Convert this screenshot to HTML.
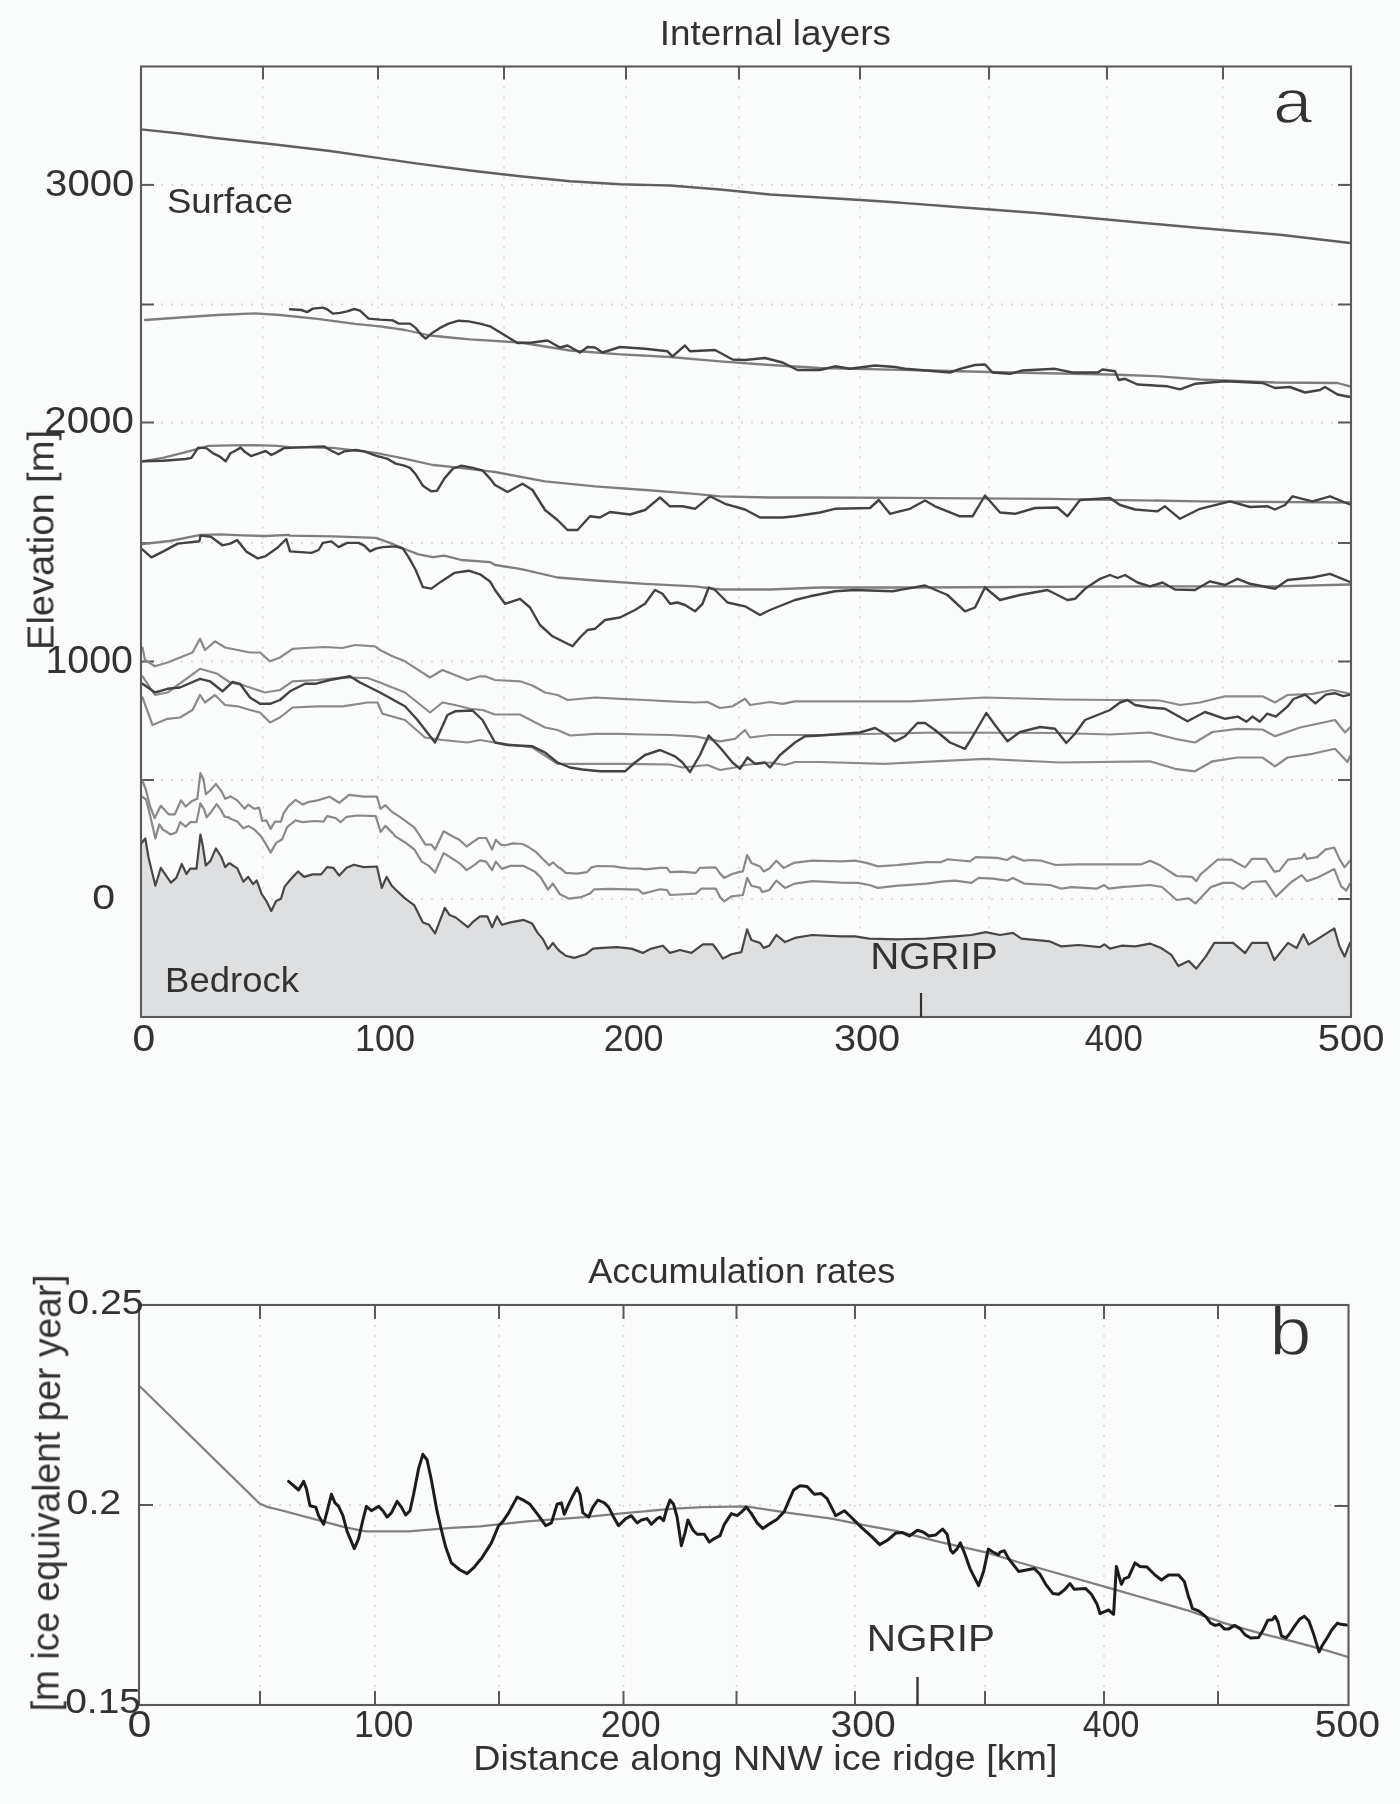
<!DOCTYPE html>
<html><head><meta charset="utf-8"><title>Internal layers and accumulation rates</title>
<style>html,body{margin:0;padding:0;background:#fafbfb;}body{width:1400px;height:1804px;overflow:hidden;font-family:"Liberation Sans",sans-serif;}</style>
</head><body>
<svg width="1400" height="1804" viewBox="0 0 1400 1804" style="display:block">
<defs><filter id="sb" x="0" y="0" width="100%" height="100%"><feGaussianBlur stdDeviation="0.45"/></filter></defs>
<rect x="0" y="0" width="1400" height="1804" fill="#fafbfb"/>
<g filter="url(#sb)">
<line x1="263" y1="66.5" x2="263" y2="1017" stroke="#dadada" stroke-width="1.8" stroke-dasharray="2,8"/>
<line x1="378" y1="66.5" x2="378" y2="1017" stroke="#dadada" stroke-width="1.8" stroke-dasharray="2,8"/>
<line x1="504" y1="66.5" x2="504" y2="1017" stroke="#dadada" stroke-width="1.8" stroke-dasharray="2,8"/>
<line x1="626" y1="66.5" x2="626" y2="1017" stroke="#dadada" stroke-width="1.8" stroke-dasharray="2,8"/>
<line x1="739" y1="66.5" x2="739" y2="1017" stroke="#dadada" stroke-width="1.8" stroke-dasharray="2,8"/>
<line x1="860" y1="66.5" x2="860" y2="1017" stroke="#dadada" stroke-width="1.8" stroke-dasharray="2,8"/>
<line x1="989" y1="66.5" x2="989" y2="1017" stroke="#dadada" stroke-width="1.8" stroke-dasharray="2,8"/>
<line x1="1107" y1="66.5" x2="1107" y2="1017" stroke="#dadada" stroke-width="1.8" stroke-dasharray="2,8"/>
<line x1="1223" y1="66.5" x2="1223" y2="1017" stroke="#dadada" stroke-width="1.8" stroke-dasharray="2,8"/>
<line x1="141" y1="184.9" x2="1351" y2="184.9" stroke="#dadada" stroke-width="1.8" stroke-dasharray="2,8"/>
<line x1="141" y1="304.5" x2="1351" y2="304.5" stroke="#dadada" stroke-width="1.8" stroke-dasharray="2,8"/>
<line x1="141" y1="422.5" x2="1351" y2="422.5" stroke="#dadada" stroke-width="1.8" stroke-dasharray="2,8"/>
<line x1="141" y1="543" x2="1351" y2="543" stroke="#dadada" stroke-width="1.8" stroke-dasharray="2,8"/>
<line x1="141" y1="661.5" x2="1351" y2="661.5" stroke="#dadada" stroke-width="1.8" stroke-dasharray="2,8"/>
<line x1="141" y1="780" x2="1351" y2="780" stroke="#dadada" stroke-width="1.8" stroke-dasharray="2,8"/>
<line x1="141" y1="899" x2="1351" y2="899" stroke="#dadada" stroke-width="1.8" stroke-dasharray="2,8"/>
<line x1="263" y1="66.5" x2="263" y2="79.5" stroke="#5a5a5a" stroke-width="2"/>
<line x1="378" y1="66.5" x2="378" y2="79.5" stroke="#5a5a5a" stroke-width="2"/>
<line x1="504" y1="66.5" x2="504" y2="79.5" stroke="#5a5a5a" stroke-width="2"/>
<line x1="626" y1="66.5" x2="626" y2="79.5" stroke="#5a5a5a" stroke-width="2"/>
<line x1="739" y1="66.5" x2="739" y2="79.5" stroke="#5a5a5a" stroke-width="2"/>
<line x1="860" y1="66.5" x2="860" y2="79.5" stroke="#5a5a5a" stroke-width="2"/>
<line x1="989" y1="66.5" x2="989" y2="79.5" stroke="#5a5a5a" stroke-width="2"/>
<line x1="1107" y1="66.5" x2="1107" y2="79.5" stroke="#5a5a5a" stroke-width="2"/>
<line x1="1223" y1="66.5" x2="1223" y2="79.5" stroke="#5a5a5a" stroke-width="2"/>
<line x1="141" y1="184.9" x2="154" y2="184.9" stroke="#5a5a5a" stroke-width="2"/>
<line x1="1338" y1="184.9" x2="1351" y2="184.9" stroke="#5a5a5a" stroke-width="2"/>
<line x1="141" y1="304.5" x2="154" y2="304.5" stroke="#5a5a5a" stroke-width="2"/>
<line x1="1338" y1="304.5" x2="1351" y2="304.5" stroke="#5a5a5a" stroke-width="2"/>
<line x1="141" y1="422.5" x2="154" y2="422.5" stroke="#5a5a5a" stroke-width="2"/>
<line x1="1338" y1="422.5" x2="1351" y2="422.5" stroke="#5a5a5a" stroke-width="2"/>
<line x1="141" y1="543" x2="154" y2="543" stroke="#5a5a5a" stroke-width="2"/>
<line x1="1338" y1="543" x2="1351" y2="543" stroke="#5a5a5a" stroke-width="2"/>
<line x1="141" y1="661.5" x2="154" y2="661.5" stroke="#5a5a5a" stroke-width="2"/>
<line x1="1338" y1="661.5" x2="1351" y2="661.5" stroke="#5a5a5a" stroke-width="2"/>
<line x1="141" y1="780" x2="154" y2="780" stroke="#5a5a5a" stroke-width="2"/>
<line x1="1338" y1="780" x2="1351" y2="780" stroke="#5a5a5a" stroke-width="2"/>
<line x1="141" y1="899" x2="154" y2="899" stroke="#5a5a5a" stroke-width="2"/>
<line x1="1338" y1="899" x2="1351" y2="899" stroke="#5a5a5a" stroke-width="2"/>
<polygon points="141.0,843.8 141.0,843.8 145.3,838.4 148.4,857.0 155.4,885.7 160.8,867.8 170.9,882.6 176.3,877.9 181.8,864.0 186.4,874.0 190.3,868.6 196.5,868.6 200.4,834.5 202.7,845.3 205.8,865.5 210.5,860.9 215.9,848.4 221.3,857.0 225.2,867.1 229.1,863.2 230.0,863.5 237.3,868.4 243.4,881.7 248.2,876.9 253.1,884.1 256.7,880.5 261.6,893.9 266.4,901.1 271.3,910.9 276.1,901.1 281.0,898.7 284.6,886.6 290.7,879.3 298.0,871.4 304.1,876.9 312.6,874.4 321.1,874.4 327.1,867.1 333.2,867.8 339.3,875.6 346.6,867.8 353.9,864.7 363.6,867.1 376.9,866.5 381.8,887.8 386.6,876.9 391.5,885.4 395.0,889.0 404.7,898.1 414.4,905.4 422.9,922.4 429.0,924.8 435.1,933.3 444.8,907.8 449.6,915.1 455.7,917.5 467.9,927.2 473.9,921.1 480.0,916.3 487.3,916.3 492.1,927.2 497.0,916.3 501.9,924.8 510.4,922.4 523.7,919.9 532.2,923.6 537.1,932.1 543.1,939.4 548.0,949.1 552.9,943.0 557.7,949.1 560.0,951.4 565.7,955.7 574.3,957.9 585.7,954.3 592.9,948.6 602.9,947.9 617.1,947.1 631.4,948.6 642.9,952.9 651.4,948.6 662.9,945.7 670.0,952.9 680.0,950.0 691.4,952.9 697.1,948.6 702.9,944.3 712.9,944.3 717.1,950.0 722.9,958.6 731.4,954.3 741.4,952.1 747.1,929.3 751.4,940.0 760.0,942.9 763.6,947.9 769.3,945.7 776.4,935.0 785.0,942.1 795.0,937.9 812.1,935.0 840.7,936.4 855.0,936.4 869.3,938.6 897.9,939.3 926.4,938.6 955.0,936.4 971.4,935.0 985.7,932.1 1000.0,935.0 1012.9,932.9 1021.4,938.6 1050.0,941.4 1061.4,946.4 1078.6,945.0 1100.0,947.1 1104.3,944.3 1110.0,948.6 1121.4,945.7 1135.7,946.4 1150.0,943.6 1161.1,948.0 1171.4,954.9 1178.3,966.0 1188.6,960.9 1196.3,968.6 1205.7,956.6 1214.3,942.9 1233.1,942.9 1245.1,953.1 1252.0,942.9 1267.4,942.9 1274.3,960.0 1288.0,942.9 1296.6,948.0 1303.4,934.3 1308.6,944.6 1317.1,939.4 1334.3,928.3 1339.4,946.3 1344.6,956.6 1350.0,942.9 1351.0,942.9 1351.0,1017.0 141.0,1017.0" fill="#dedfe1" stroke="none"/>
<polyline points="141.0,129.4 180.0,133.5 215.0,138.0 272.9,144.3 330.0,151.0 415.7,163.4 470.0,170.5 520.0,176.3 570.0,181.3 620.0,184.3 670.0,185.5 720.0,189.5 770.0,194.5 820.0,197.5 880.0,201.2 960.0,207.2 1040.0,213.2 1120.0,220.8 1200.0,228.0 1280.0,234.8 1350.0,243.0" fill="none" stroke="#606060" stroke-width="2.4" stroke-linejoin="round" stroke-linecap="round" />
<polyline points="145.0,320.0 180.0,317.5 217.5,315.0 255.0,313.3 280.0,315.0 317.5,318.8 355.0,323.8 380.0,326.3 405.0,330.0 430.0,335.5 455.0,338.0 470.0,339.3 520.0,342.5 570.0,350.5 620.0,354.3 670.0,357.0 720.0,361.3 770.0,365.0 820.0,368.0 910.0,370.0 1010.0,372.5 1110.0,374.5 1160.0,376.3 1200.0,379.5 1275.0,382.5 1337.5,383.0 1350.0,386.3" fill="none" stroke="#7e7e7e" stroke-width="2.3" stroke-linejoin="round" stroke-linecap="round" />
<polyline points="290.0,309.3 301.4,310.0 307.1,312.1 312.9,308.6 322.9,307.6 327.1,309.3 332.9,313.6 340.0,312.9 347.1,311.4 354.3,309.0 360.0,310.7 368.6,318.6 380.0,319.6 392.9,320.4 398.6,323.6 410.0,323.6 415.7,327.9 421.4,335.0 425.7,338.6 431.4,333.6 440.0,327.9 448.6,323.6 458.6,320.7 468.6,321.4 480.0,323.6 490.0,326.3 517.5,343.0 532.5,342.5 547.5,340.5 560.0,347.5 567.5,345.5 580.0,352.5 587.5,347.0 595.0,347.5 602.5,352.5 620.0,347.0 645.0,348.8 667.5,351.3 672.5,356.3 685.0,345.5 690.0,351.3 715.0,350.0 732.5,359.5 745.0,360.0 765.0,358.0 782.5,362.5 797.5,370.0 820.0,370.0 835.0,366.3 850.0,368.8 875.0,365.5 895.0,367.0 905.0,368.8 950.0,372.5 960.0,368.8 975.0,365.0 985.0,364.5 992.5,372.5 1010.0,373.8 1022.5,370.5 1055.0,368.8 1072.5,372.5 1097.5,372.5 1102.5,369.5 1115.0,371.3 1118.8,380.0 1125.0,378.8 1137.5,384.5 1167.5,386.3 1180.0,389.3 1195.0,383.8 1225.0,381.3 1262.5,383.0 1275.0,388.0 1290.0,387.0 1305.0,392.5 1320.0,390.0 1325.0,387.0 1337.5,394.5 1350.0,397.0" fill="none" stroke="#424242" stroke-width="2.4" stroke-linejoin="round" stroke-linecap="round" />
<polyline points="142.3,461.3 162.9,457.9 185.7,452.1 208.6,445.9 231.4,445.3 254.3,445.1 277.1,445.9 290.0,447.1 332.9,447.9 375.7,452.9 404.3,458.6 432.9,465.0 447.1,466.4 490.0,471.4 495.0,472.0 545.0,481.3 595.0,486.3 645.0,490.0 695.0,493.8 720.0,496.3 770.0,497.5 820.0,497.5 1050.0,498.8 1200.0,501.3 1350.0,502.5" fill="none" stroke="#7e7e7e" stroke-width="2.3" stroke-linejoin="round" stroke-linecap="round" />
<polyline points="142.3,461.3 162.9,460.7 185.7,459.0 191.4,457.9 198.3,447.6 206.3,448.1 213.1,453.3 220.0,456.7 225.7,461.3 230.3,453.3 234.9,451.0 240.6,447.6 245.1,452.1 250.9,456.1 258.9,453.3 265.7,451.0 271.4,455.0 277.1,452.1 284.0,448.1 290.0,447.9 311.4,446.9 324.3,446.4 330.0,450.0 338.6,454.3 344.3,451.4 355.7,450.0 364.3,451.4 375.7,455.7 387.1,458.6 395.7,463.6 404.3,465.7 410.0,467.9 415.7,474.3 422.9,485.7 431.4,491.4 437.1,490.7 444.3,478.6 452.9,468.6 461.4,465.7 472.9,467.9 482.9,470.7 490.0,478.6 495.0,485.0 507.5,492.0 522.5,483.8 532.5,490.0 545.0,510.0 557.5,520.0 567.5,530.0 577.5,530.0 590.0,516.3 600.0,517.5 610.0,512.0 630.0,514.5 645.0,510.0 660.0,497.5 670.0,506.3 682.5,506.3 695.0,508.8 710.0,496.3 725.0,503.8 745.0,509.5 760.0,517.5 782.5,517.5 795.0,516.3 820.0,512.5 835.0,508.8 870.0,508.0 878.8,500.0 890.0,513.8 910.0,508.8 925.0,500.5 935.0,506.3 960.0,516.3 972.5,516.3 985.0,495.5 1000.0,512.5 1015.0,513.8 1035.0,508.0 1057.5,507.5 1067.5,516.3 1080.0,500.0 1110.0,498.0 1120.0,505.0 1135.0,509.5 1157.5,511.3 1165.0,506.3 1180.0,518.8 1200.0,508.8 1230.0,501.3 1250.0,507.0 1267.5,506.3 1275.0,509.5 1285.0,505.0 1292.5,496.3 1312.5,501.3 1330.0,496.3 1350.0,504.5" fill="none" stroke="#424242" stroke-width="2.4" stroke-linejoin="round" stroke-linecap="round" />
<polyline points="142.3,544.0 170.0,541.0 200.6,534.8 220.0,534.4 242.9,535.3 265.7,536.0 288.6,534.8 290.0,535.7 332.9,536.4 375.7,537.9 390.0,542.9 407.1,550.0 418.6,554.3 432.9,557.1 444.3,555.7 461.4,560.0 490.0,562.1 495.0,565.0 520.0,568.8 557.5,577.5 595.0,580.5 645.0,583.8 695.0,586.3 720.0,589.5 770.0,589.5 820.0,587.5 910.0,587.5 1160.0,586.3 1275.0,586.3 1350.0,584.5" fill="none" stroke="#7e7e7e" stroke-width="2.3" stroke-linejoin="round" stroke-linecap="round" />
<polyline points="142.3,549.3 151.4,557.3 162.9,551.6 177.7,543.6 199.4,541.3 200.6,535.6 210.9,536.7 222.3,545.3 230.3,543.6 237.1,540.1 246.3,551.6 257.7,558.4 265.7,556.1 277.1,548.1 286.3,539.0 290.0,551.4 311.4,552.9 318.6,550.0 322.9,542.9 331.4,541.4 338.6,547.1 347.1,542.9 358.6,542.9 364.3,545.7 370.0,551.4 375.7,548.6 382.9,547.1 395.7,546.4 402.9,548.6 408.6,557.1 415.7,570.0 422.9,587.1 431.4,588.6 441.4,581.4 454.3,572.9 468.6,570.7 480.0,574.3 490.0,581.4 495.0,590.0 505.0,603.8 520.0,598.8 530.0,607.5 540.0,625.0 552.5,636.3 562.5,641.3 572.5,646.3 580.0,637.5 587.5,630.0 595.0,628.8 605.0,620.0 620.0,617.5 635.0,610.0 645.0,603.8 655.0,590.0 662.5,593.8 670.0,603.8 677.5,602.5 685.0,605.0 695.0,611.3 702.5,603.8 708.8,587.5 715.0,590.0 727.5,602.5 745.0,606.3 760.0,615.0 770.0,610.0 795.0,600.0 810.0,596.3 835.0,591.3 855.0,590.0 892.5,591.3 925.0,585.5 947.5,595.0 965.0,611.3 975.0,607.5 985.0,587.5 1000.0,600.0 1020.0,595.0 1047.5,590.0 1067.5,600.0 1075.0,598.8 1085.0,588.8 1100.0,578.8 1110.0,575.0 1117.5,578.0 1125.0,575.0 1137.5,582.5 1150.0,586.3 1162.5,582.5 1175.0,589.5 1195.0,590.0 1210.0,581.3 1225.0,585.0 1237.5,578.8 1250.0,583.8 1275.0,588.8 1287.5,580.0 1312.5,577.5 1330.0,573.8 1350.0,582.0" fill="none" stroke="#424242" stroke-width="2.4" stroke-linejoin="round" stroke-linecap="round" />
<polyline points="142.5,647.5 145.0,660.0 155.0,666.3 167.5,662.5 180.0,657.5 192.5,652.5 200.0,638.8 205.0,650.0 215.0,641.3 225.0,647.5 237.5,650.0 250.0,652.5 260.0,652.5 270.0,661.3 280.0,657.5 292.5,648.8 305.0,648.0 325.0,647.0 342.5,648.0 355.0,645.0 375.0,646.3 380.0,650.0 392.5,656.3 405.0,661.3 430.0,677.5 442.5,670.0 455.0,675.0 467.5,680.0 480.0,676.3 485.0,676.3 495.0,680.0 520.0,681.3 532.5,685.5 545.0,692.5 557.5,695.0 567.5,700.0 595.0,697.5 620.0,698.8 645.0,700.0 670.0,701.3 695.0,702.5 707.5,702.0 720.0,708.0 732.5,706.3 745.0,698.8 750.0,705.0 770.0,702.0 782.5,703.8 795.0,701.3 820.0,701.3 910.0,701.3 985.0,697.5 1060.0,699.5 1110.0,700.0 1160.0,700.5 1180.0,705.0 1200.0,702.5 1225.0,696.3 1262.5,696.3 1275.0,702.5 1287.5,695.0 1312.5,693.8 1332.5,690.0 1350.0,693.8" fill="none" stroke="#8a8a8a" stroke-width="2.2" stroke-linejoin="round" stroke-linecap="round" />
<polyline points="142.5,676.3 155.0,695.0 167.5,692.5 200.0,668.8 217.5,673.8 230.0,682.5 242.5,685.0 265.0,692.5 280.0,690.0 292.5,681.3 317.5,680.0 342.5,677.5 367.5,678.0 380.0,682.5 405.0,692.5 430.0,712.5 442.5,702.5 455.0,705.0 470.0,708.8 482.5,710.0 495.0,714.5 520.0,714.5 545.0,727.5 557.5,730.0 570.0,735.5 595.0,733.8 620.0,733.8 645.0,734.5 670.0,735.0 695.0,736.3 720.0,741.3 735.0,738.8 745.0,730.0 750.0,737.5 770.0,735.0 795.0,735.0 820.0,735.0 935.0,732.5 1060.0,733.0 1110.0,734.5 1150.0,732.5 1175.0,738.8 1195.0,742.5 1212.5,732.0 1237.5,728.8 1262.5,729.5 1275.0,736.3 1300.0,727.5 1335.0,720.0 1345.0,732.5 1350.0,727.5" fill="none" stroke="#8a8a8a" stroke-width="2.2" stroke-linejoin="round" stroke-linecap="round" />
<polyline points="142.5,697.5 152.5,725.0 167.5,718.8 180.0,717.5 192.5,710.0 200.0,695.0 205.0,702.5 215.0,695.0 225.0,705.0 237.5,706.3 250.0,710.0 260.0,712.5 270.0,722.5 280.0,717.5 292.5,707.5 317.5,706.3 342.5,706.3 367.5,702.5 377.5,702.5 382.5,713.8 405.0,720.0 425.0,737.5 442.5,740.0 467.5,742.5 480.0,740.0 495.0,742.5 532.5,747.5 557.5,763.8 582.5,763.8 620.0,763.8 670.0,764.5 682.5,767.5 707.5,765.0 720.0,770.0 735.0,767.5 745.0,765.0 770.0,762.5 785.0,765.0 795.0,762.0 820.0,762.0 885.0,763.8 985.0,758.8 1060.0,762.5 1150.0,761.3 1175.0,768.8 1195.0,771.3 1212.5,761.3 1237.5,757.5 1262.5,757.5 1275.0,766.3 1287.5,757.5 1312.5,753.8 1335.0,748.8 1347.5,762.0 1350.0,756.3" fill="none" stroke="#8a8a8a" stroke-width="2.2" stroke-linejoin="round" stroke-linecap="round" />
<polyline points="142.5,683.8 155.0,692.5 167.5,688.8 180.0,687.5 200.0,678.8 210.0,681.3 222.5,691.3 232.5,682.0 240.0,683.8 250.0,697.5 260.0,703.8 270.0,703.8 280.0,700.0 290.0,691.3 305.0,683.8 315.0,683.8 330.0,680.0 350.0,676.3 360.0,682.5 380.0,692.5 405.0,706.3 417.5,720.0 435.0,742.5 447.5,715.0 455.0,711.3 472.5,710.5 482.5,720.0 495.0,742.5 507.5,745.0 532.5,746.3 545.0,752.5 557.5,762.5 570.0,767.5 582.5,769.5 600.0,771.3 625.0,771.3 635.0,762.5 645.0,755.0 660.0,750.0 675.0,756.3 682.5,762.5 690.0,772.0 700.0,755.0 708.8,735.5 720.0,747.5 732.5,762.5 740.0,768.8 747.5,757.5 755.0,763.8 765.0,762.5 770.0,767.5 780.0,755.0 795.0,742.5 805.0,736.3 820.0,735.5 860.0,732.5 875.0,728.0 885.0,733.8 895.0,741.3 905.0,736.3 917.5,723.0 925.0,723.0 935.0,730.0 950.0,742.5 965.0,748.8 975.0,732.5 986.3,713.0 995.0,725.0 1007.5,741.3 1020.0,732.0 1040.0,727.0 1055.0,728.8 1066.3,743.0 1075.0,733.8 1085.0,720.0 1097.5,715.0 1110.0,710.0 1120.0,702.5 1127.5,700.0 1135.0,705.0 1150.0,707.5 1165.0,708.8 1187.5,721.3 1205.0,712.0 1225.0,718.8 1237.8,716.6 1246.6,721.7 1252.5,716.6 1259.8,721.7 1267.1,713.7 1275.9,716.6 1287.6,706.4 1293.5,699.0 1305.2,694.6 1315.4,703.4 1325.7,694.6 1334.5,693.2 1343.3,696.1 1350.5,694.6" fill="none" stroke="#424242" stroke-width="2.4" stroke-linejoin="round" stroke-linecap="round" />
<polyline points="142.5,781.0 146.0,790.0 150.0,806.0 154.6,818.2 160.8,805.8 168.6,814.3 174.8,814.3 181.0,800.3 185.7,806.5 191.9,801.1 197.3,798.8 200.4,773.2 203.5,779.4 205.8,794.1 209.7,791.0 215.9,784.0 221.3,791.0 225.2,798.8 229.1,797.2 230.0,796.1 237.3,800.4 244.6,808.9 248.2,804.6 254.3,808.9 259.1,807.6 262.2,821.0 266.4,820.4 270.7,828.9 274.9,821.6 281.0,821.6 283.4,813.7 288.3,806.4 295.6,799.8 302.9,804.6 307.7,802.2 317.4,800.4 329.6,796.7 339.3,802.8 349.0,794.9 363.6,796.7 376.9,796.7 380.6,808.9 385.4,805.2 392.7,812.5 395.0,813.7 404.7,820.4 414.4,827.6 419.3,834.9 425.4,844.6 431.4,844.6 435.1,849.5 443.6,831.3 453.3,836.8 459.4,839.8 466.6,846.5 472.7,842.2 478.8,838.0 486.1,838.0 492.1,849.5 495.8,839.8 500.6,844.6 505.5,845.3 512.8,843.4 522.5,844.0 528.6,847.1 535.9,851.9 543.1,859.2 549.2,865.3 552.9,862.3 558.9,867.7 560.0,867.9 565.7,872.9 577.1,873.6 587.1,872.1 591.4,867.4 597.1,866.0 614.3,866.4 620.0,867.4 628.6,868.3 640.0,868.6 645.7,869.3 660.0,867.9 667.1,867.9 670.0,872.1 681.4,871.7 695.7,872.9 700.0,867.9 715.7,867.4 720.0,873.6 724.3,877.9 731.4,874.3 738.6,872.1 742.9,871.4 747.1,855.0 751.4,862.9 760.0,866.4 763.6,871.4 769.3,868.6 776.4,860.7 783.6,867.9 793.6,862.9 812.1,860.7 840.7,861.4 855.0,860.7 866.4,862.9 877.9,866.4 897.9,865.0 926.4,862.1 940.7,862.1 947.9,859.3 955.0,860.0 970.0,861.4 975.7,857.1 997.1,857.9 1007.1,860.0 1012.9,856.4 1018.6,858.6 1024.3,860.7 1030.0,860.0 1041.4,860.7 1055.7,865.0 1078.6,864.3 1107.1,864.3 1141.4,864.3 1150.0,860.7 1159.4,864.9 1176.6,876.0 1192.0,876.9 1196.3,881.1 1200.6,874.3 1212.6,864.0 1217.7,859.7 1231.4,859.7 1245.1,867.4 1252.0,858.9 1265.7,858.9 1274.3,871.7 1279.4,870.9 1288.0,859.7 1301.7,858.0 1304.3,853.7 1306.9,858.9 1317.1,857.1 1325.7,849.4 1334.3,847.7 1339.4,858.9 1344.6,867.4 1350.0,860.6" fill="none" stroke="#8a8a8a" stroke-width="2.2" stroke-linejoin="round" stroke-linecap="round" />
<polyline points="142.5,797.0 146.1,799.5 150.0,815.0 155.4,838.4 159.3,824.4 163.2,829.8 170.9,834.5 176.4,832.2 180.2,822.1 185.7,826.7 190.3,822.1 196.5,822.1 200.4,803.4 204.3,809.7 206.6,817.4 210.5,812.8 216.7,804.2 221.3,810.4 224.4,816.6 229.1,817.4 230.0,818.6 237.3,821.6 243.4,828.3 248.2,825.9 254.3,829.5 260.4,835.6 265.2,842.9 270.7,852.6 276.1,842.9 282.2,839.2 287.1,827.1 295.6,820.4 302.9,822.2 315.0,821.0 323.5,821.6 327.1,816.1 335.6,818.0 340.5,822.2 346.6,816.8 357.5,815.5 375.7,816.1 380.6,831.9 385.4,825.9 392.7,833.1 395.0,836.1 404.7,842.2 414.4,849.5 421.7,861.6 429.0,865.9 435.1,872.6 443.6,853.1 453.3,859.2 460.6,864.1 466.6,870.1 473.9,865.3 480.0,860.4 486.1,861.6 492.1,870.1 495.8,861.6 501.9,868.9 510.4,865.9 523.7,865.9 534.6,871.4 540.7,877.4 548.0,889.6 552.9,883.5 560.0,894.3 568.6,898.6 581.4,897.1 590.0,893.6 594.3,889.3 610.0,888.9 638.6,889.7 642.9,893.6 660.0,889.3 667.1,890.0 670.0,895.0 688.6,894.0 695.7,893.6 701.4,888.6 715.7,888.6 720.0,897.1 724.3,901.4 731.4,896.4 742.9,895.0 747.1,877.9 751.4,885.7 760.0,887.9 762.1,892.1 769.3,890.0 776.4,880.7 785.0,887.9 795.0,883.6 812.1,881.1 840.7,882.6 857.9,882.9 869.3,885.0 877.9,887.9 897.9,885.7 926.4,883.6 943.6,881.4 955.0,880.7 971.4,882.9 978.6,877.9 992.9,878.6 1007.1,880.7 1012.9,877.9 1024.3,883.6 1050.0,885.0 1061.4,888.6 1071.4,887.1 1097.1,888.6 1104.3,885.0 1108.6,888.6 1121.4,887.1 1150.0,885.0 1162.0,887.0 1176.6,900.0 1188.6,898.3 1195.4,903.4 1210.9,887.1 1222.9,882.9 1233.1,882.9 1243.4,888.9 1252.0,882.0 1265.7,881.1 1276.0,896.6 1291.4,882.0 1301.7,875.1 1306.9,881.1 1317.1,877.7 1325.7,873.4 1334.3,869.1 1341.1,886.3 1346.3,890.6 1350.0,883.7" fill="none" stroke="#8a8a8a" stroke-width="2.2" stroke-linejoin="round" stroke-linecap="round" />
<polyline points="141.0,843.8 145.3,838.4 148.4,857.0 155.4,885.7 160.8,867.8 170.9,882.6 176.3,877.9 181.8,864.0 186.4,874.0 190.3,868.6 196.5,868.6 200.4,834.5 202.7,845.3 205.8,865.5 210.5,860.9 215.9,848.4 221.3,857.0 225.2,867.1 229.1,863.2 230.0,863.5 237.3,868.4 243.4,881.7 248.2,876.9 253.1,884.1 256.7,880.5 261.6,893.9 266.4,901.1 271.3,910.9 276.1,901.1 281.0,898.7 284.6,886.6 290.7,879.3 298.0,871.4 304.1,876.9 312.6,874.4 321.1,874.4 327.1,867.1 333.2,867.8 339.3,875.6 346.6,867.8 353.9,864.7 363.6,867.1 376.9,866.5 381.8,887.8 386.6,876.9 391.5,885.4 395.0,889.0 404.7,898.1 414.4,905.4 422.9,922.4 429.0,924.8 435.1,933.3 444.8,907.8 449.6,915.1 455.7,917.5 467.9,927.2 473.9,921.1 480.0,916.3 487.3,916.3 492.1,927.2 497.0,916.3 501.9,924.8 510.4,922.4 523.7,919.9 532.2,923.6 537.1,932.1 543.1,939.4 548.0,949.1 552.9,943.0 557.7,949.1 560.0,951.4 565.7,955.7 574.3,957.9 585.7,954.3 592.9,948.6 602.9,947.9 617.1,947.1 631.4,948.6 642.9,952.9 651.4,948.6 662.9,945.7 670.0,952.9 680.0,950.0 691.4,952.9 697.1,948.6 702.9,944.3 712.9,944.3 717.1,950.0 722.9,958.6 731.4,954.3 741.4,952.1 747.1,929.3 751.4,940.0 760.0,942.9 763.6,947.9 769.3,945.7 776.4,935.0 785.0,942.1 795.0,937.9 812.1,935.0 840.7,936.4 855.0,936.4 869.3,938.6 897.9,939.3 926.4,938.6 955.0,936.4 971.4,935.0 985.7,932.1 1000.0,935.0 1012.9,932.9 1021.4,938.6 1050.0,941.4 1061.4,946.4 1078.6,945.0 1100.0,947.1 1104.3,944.3 1110.0,948.6 1121.4,945.7 1135.7,946.4 1150.0,943.6 1161.1,948.0 1171.4,954.9 1178.3,966.0 1188.6,960.9 1196.3,968.6 1205.7,956.6 1214.3,942.9 1233.1,942.9 1245.1,953.1 1252.0,942.9 1267.4,942.9 1274.3,960.0 1288.0,942.9 1296.6,948.0 1303.4,934.3 1308.6,944.6 1317.1,939.4 1334.3,928.3 1339.4,946.3 1344.6,956.6 1350.0,942.9" fill="none" stroke="#474747" stroke-width="2.2" stroke-linejoin="round" stroke-linecap="round" />
<rect x="141" y="66.5" width="1210" height="950.5" fill="none" stroke="#5a5a5a" stroke-width="2.1"/>
<line x1="921" y1="993" x2="921" y2="1017" stroke="#333" stroke-width="2.2"/>
<line x1="260" y1="1305" x2="260" y2="1705" stroke="#dadada" stroke-width="1.8" stroke-dasharray="2,8"/>
<line x1="375" y1="1305" x2="375" y2="1705" stroke="#dadada" stroke-width="1.8" stroke-dasharray="2,8"/>
<line x1="499" y1="1305" x2="499" y2="1705" stroke="#dadada" stroke-width="1.8" stroke-dasharray="2,8"/>
<line x1="623.5" y1="1305" x2="623.5" y2="1705" stroke="#dadada" stroke-width="1.8" stroke-dasharray="2,8"/>
<line x1="736.5" y1="1305" x2="736.5" y2="1705" stroke="#dadada" stroke-width="1.8" stroke-dasharray="2,8"/>
<line x1="855" y1="1305" x2="855" y2="1705" stroke="#dadada" stroke-width="1.8" stroke-dasharray="2,8"/>
<line x1="985" y1="1305" x2="985" y2="1705" stroke="#dadada" stroke-width="1.8" stroke-dasharray="2,8"/>
<line x1="1104" y1="1305" x2="1104" y2="1705" stroke="#dadada" stroke-width="1.8" stroke-dasharray="2,8"/>
<line x1="1218" y1="1305" x2="1218" y2="1705" stroke="#dadada" stroke-width="1.8" stroke-dasharray="2,8"/>
<line x1="139" y1="1505" x2="1348.5" y2="1505" stroke="#dadada" stroke-width="1.8" stroke-dasharray="2,8"/>
<polyline points="139.5,1386.0 259.5,1503.5 267.0,1506.8 280.0,1510.0 322.9,1521.4 344.3,1527.1 365.7,1531.4 408.6,1531.4 451.4,1527.9 480.0,1526.4 527.1,1521.4 584.3,1517.1 627.1,1512.9 674.3,1508.6 702.9,1507.1 745.7,1506.4 788.6,1512.9 831.4,1518.6 870.6,1526.3 895.7,1530.9 941.4,1542.3 987.1,1552.6 1021.0,1563.0 1114.0,1589.3 1190.0,1611.2 1224.3,1623.1 1258.6,1632.9 1292.9,1641.4 1327.1,1650.6 1348.0,1657.0" fill="none" stroke="#808080" stroke-width="2.3" stroke-linejoin="round" stroke-linecap="round" />
<polyline points="288.6,1481.4 298.6,1490.0 303.6,1481.4 306.4,1488.6 310.0,1505.7 315.7,1507.1 318.6,1515.7 323.6,1524.3 327.1,1511.4 331.4,1494.3 335.0,1502.9 338.6,1506.4 342.9,1515.7 347.1,1531.4 354.3,1548.6 358.6,1538.6 362.9,1520.0 366.4,1506.4 371.4,1510.7 378.6,1506.4 382.9,1510.7 387.1,1517.1 391.4,1512.9 397.1,1501.4 401.4,1507.1 405.7,1515.0 410.0,1510.7 413.6,1494.3 418.6,1468.6 422.9,1454.3 427.1,1460.0 431.4,1480.0 437.1,1511.4 441.4,1530.0 445.7,1547.1 451.4,1562.9 460.0,1570.0 467.1,1573.6 474.3,1567.1 480.0,1560.0 481.4,1558.6 491.4,1542.9 498.6,1525.7 502.9,1521.4 508.6,1512.9 517.1,1497.1 524.3,1500.7 530.0,1504.3 538.6,1515.7 545.7,1525.7 551.4,1522.9 557.1,1504.3 561.4,1502.9 564.3,1514.3 568.6,1504.3 572.9,1495.7 577.1,1487.9 580.0,1494.3 582.9,1512.9 588.6,1517.1 592.9,1507.1 597.9,1500.0 604.3,1502.9 608.6,1507.1 612.9,1515.7 618.6,1525.7 625.7,1518.6 631.4,1515.7 637.1,1522.9 641.4,1520.0 647.1,1518.6 651.4,1524.3 657.1,1518.6 660.0,1517.1 663.6,1520.7 666.4,1510.0 670.0,1500.0 673.6,1504.3 677.1,1517.1 681.4,1545.7 685.0,1532.9 687.9,1520.0 692.9,1530.0 697.1,1534.3 704.3,1534.3 709.3,1542.1 714.3,1538.6 720.0,1535.7 724.3,1524.3 731.4,1513.6 737.1,1515.7 741.4,1512.1 746.4,1507.1 751.4,1513.6 757.1,1522.9 762.9,1528.6 770.0,1523.6 777.1,1519.3 784.3,1511.4 788.6,1501.4 793.6,1490.0 800.0,1485.7 807.1,1486.4 814.3,1494.3 821.4,1493.6 827.1,1498.6 835.7,1515.7 844.3,1510.7 850.0,1516.0 854.6,1520.6 861.4,1527.4 871.7,1536.6 879.7,1544.6 887.7,1540.0 895.7,1533.1 902.6,1532.6 909.4,1536.0 917.4,1530.3 923.1,1532.0 928.9,1536.0 935.7,1534.9 942.6,1529.1 947.1,1534.3 950.6,1550.3 952.9,1553.1 956.9,1549.1 960.3,1542.9 964.3,1552.6 970.0,1568.6 978.6,1585.7 983.7,1570.9 988.3,1549.1 992.9,1552.0 998.6,1554.9 1000.0,1552.1 1004.3,1550.7 1008.6,1558.6 1018.6,1571.4 1034.3,1568.6 1040.0,1574.3 1045.7,1584.3 1052.9,1593.6 1058.6,1594.3 1064.3,1590.0 1070.0,1583.6 1074.3,1589.3 1085.7,1588.6 1091.4,1594.3 1097.1,1604.3 1100.0,1613.6 1108.6,1610.0 1113.6,1614.3 1116.4,1566.4 1119.3,1577.1 1121.4,1584.3 1124.3,1578.6 1128.6,1577.1 1135.0,1562.9 1140.0,1566.4 1147.1,1567.1 1154.3,1574.3 1161.4,1580.0 1168.6,1575.0 1178.6,1575.0 1184.3,1581.4 1188.6,1597.1 1190.0,1600.3 1192.3,1608.3 1199.1,1611.1 1206.0,1616.9 1210.6,1623.1 1215.1,1625.4 1219.7,1624.3 1224.3,1628.9 1228.9,1628.9 1234.6,1625.4 1240.3,1628.9 1244.9,1634.6 1250.6,1638.0 1258.6,1637.4 1263.1,1630.0 1267.7,1620.3 1272.3,1619.7 1275.1,1616.3 1278.0,1622.0 1281.4,1635.7 1286.0,1638.0 1289.4,1634.0 1295.1,1625.4 1299.7,1619.1 1304.3,1616.3 1308.9,1620.9 1313.4,1633.4 1316.9,1644.9 1319.1,1651.7 1322.6,1644.9 1327.1,1638.0 1331.7,1630.0 1337.4,1623.1 1340.9,1624.3 1346.5,1624.9" fill="none" stroke="#1e1e1e" stroke-width="3.0" stroke-linejoin="round" stroke-linecap="round" />
<rect x="139" y="1305" width="1209.5" height="400" fill="none" stroke="#5a5a5a" stroke-width="2.1"/>
<line x1="260" y1="1305" x2="260" y2="1319" stroke="#5a5a5a" stroke-width="2"/>
<line x1="260" y1="1691" x2="260" y2="1705" stroke="#5a5a5a" stroke-width="2"/>
<line x1="375" y1="1305" x2="375" y2="1319" stroke="#5a5a5a" stroke-width="2"/>
<line x1="375" y1="1691" x2="375" y2="1705" stroke="#5a5a5a" stroke-width="2"/>
<line x1="499" y1="1305" x2="499" y2="1319" stroke="#5a5a5a" stroke-width="2"/>
<line x1="499" y1="1691" x2="499" y2="1705" stroke="#5a5a5a" stroke-width="2"/>
<line x1="623.5" y1="1305" x2="623.5" y2="1319" stroke="#5a5a5a" stroke-width="2"/>
<line x1="623.5" y1="1691" x2="623.5" y2="1705" stroke="#5a5a5a" stroke-width="2"/>
<line x1="736.5" y1="1305" x2="736.5" y2="1319" stroke="#5a5a5a" stroke-width="2"/>
<line x1="736.5" y1="1691" x2="736.5" y2="1705" stroke="#5a5a5a" stroke-width="2"/>
<line x1="855" y1="1305" x2="855" y2="1319" stroke="#5a5a5a" stroke-width="2"/>
<line x1="855" y1="1691" x2="855" y2="1705" stroke="#5a5a5a" stroke-width="2"/>
<line x1="985" y1="1305" x2="985" y2="1319" stroke="#5a5a5a" stroke-width="2"/>
<line x1="985" y1="1691" x2="985" y2="1705" stroke="#5a5a5a" stroke-width="2"/>
<line x1="1104" y1="1305" x2="1104" y2="1319" stroke="#5a5a5a" stroke-width="2"/>
<line x1="1104" y1="1691" x2="1104" y2="1705" stroke="#5a5a5a" stroke-width="2"/>
<line x1="1218" y1="1305" x2="1218" y2="1319" stroke="#5a5a5a" stroke-width="2"/>
<line x1="1218" y1="1691" x2="1218" y2="1705" stroke="#5a5a5a" stroke-width="2"/>
<line x1="139" y1="1505" x2="153" y2="1505" stroke="#5a5a5a" stroke-width="2"/>
<line x1="1334.5" y1="1506" x2="1348.5" y2="1506" stroke="#5a5a5a" stroke-width="2"/>
<line x1="917.5" y1="1677" x2="917.5" y2="1705" stroke="#333" stroke-width="2.4"/>
<g font-family="Liberation Sans, sans-serif">
<text transform="translate(659.79,44.50) scale(1.0681,1)" font-size="34.48" fill="#333333">Internal layers</text>
<text stroke="#fafbfb" stroke-width="1.3" transform="translate(1272.88,122.98) scale(1.1302,1)" font-size="62.36" fill="#333333">a</text>
<text transform="translate(45.10,195.63) scale(1.0907,1)" font-size="36.76" fill="#333333">3000</text>
<text transform="translate(44.29,432.73) scale(1.0780,1)" font-size="37.32" fill="#333333">2000</text>
<text transform="translate(45.45,672.52) scale(1.0344,1)" font-size="38.03" fill="#333333">1000</text>
<text transform="translate(92.26,908.64) scale(1.1518,1)" font-size="35.63" fill="#333333">0</text>
<text transform="translate(166.95,212.55) scale(1.0387,1)" font-size="35.24" fill="#333333">Surface</text>
<text transform="translate(165.08,992.16) scale(1.0685,1)" font-size="34.15" fill="#333333">Bedrock</text>
<text transform="translate(870.18,968.53) scale(1.0879,1)" font-size="37.04" fill="#333333">NGRIP</text>
<text transform="translate(132.57,1051.03) scale(1.1066,1)" font-size="36.90" fill="#333333">0</text>
<text transform="translate(355.00,1051.03) scale(0.9759,1)" font-size="36.90" fill="#333333">100</text>
<text transform="translate(603.71,1051.03) scale(0.9708,1)" font-size="36.90" fill="#333333">200</text>
<text transform="translate(833.91,1051.03) scale(1.0754,1)" font-size="36.90" fill="#333333">300</text>
<text transform="translate(1084.81,1051.03) scale(0.9409,1)" font-size="36.90" fill="#333333">400</text>
<text transform="translate(1317.80,1051.03) scale(1.0840,1)" font-size="36.90" fill="#333333">500</text>
<text transform="translate(53.50,649.95) rotate(-90.000) scale(1.0146,1)" font-size="37.52" fill="#333333">Elevation [m]</text>
<text transform="translate(588.20,1283.40) scale(1.0477,1)" font-size="34.48" fill="#333333">Accumulation rates</text>
<text stroke="#fafbfb" stroke-width="1.3" transform="translate(1269.35,1355.42) scale(1.1272,1)" font-size="67.62" fill="#333333">b</text>
<text transform="translate(67.18,1313.55) scale(1.1103,1)" font-size="35.42" fill="#333333">0.25</text>
<text transform="translate(66.52,1514.35) scale(1.1414,1)" font-size="34.51" fill="#333333">0.2</text>
<text transform="translate(65.14,1713.15) scale(1.1297,1)" font-size="34.51" fill="#333333">0.15</text>
<text transform="translate(127.38,1737.43) scale(1.1720,1)" font-size="36.62" fill="#333333">0</text>
<text transform="translate(353.92,1737.43) scale(0.9746,1)" font-size="36.62" fill="#333333">100</text>
<text transform="translate(600.81,1737.43) scale(0.9782,1)" font-size="36.62" fill="#333333">200</text>
<text transform="translate(830.54,1737.43) scale(1.0648,1)" font-size="36.62" fill="#333333">300</text>
<text transform="translate(1082.82,1737.43) scale(0.9261,1)" font-size="36.62" fill="#333333">400</text>
<text transform="translate(1314.84,1737.43) scale(1.0683,1)" font-size="36.62" fill="#333333">500</text>
<text transform="translate(866.76,1650.74) scale(1.1187,1)" font-size="36.20" fill="#333333">NGRIP</text>
<text transform="translate(473.18,1769.60) scale(1.0719,1)" font-size="35.17" fill="#333333">Distance along NNW ice ridge [km]</text>
<text transform="translate(58.30,1711.41) rotate(-89.670) scale(0.9651,1)" font-size="38.62" fill="#333333">[m ice equivalent per year]</text>
</g>
<line x1="1262" y1="1305" x2="1322" y2="1305" stroke="#5a5a5a" stroke-width="2.1"/>
</g>
</svg>
</body></html>
